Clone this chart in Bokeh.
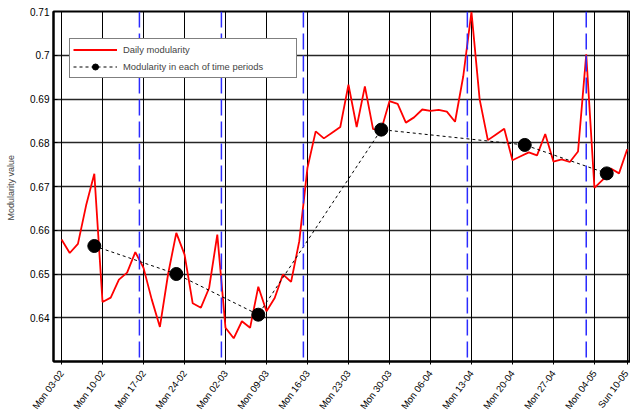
from bokeh.plotting import figure
from bokeh.models import FixedTicker, Span, Legend, LegendItem, Range1d
from bokeh.embed import file_html
from bokeh.resources import INLINE

# Daily modularity (one value per working day, index 0 = Mon 03-02)
daily_modularity = [
    0.6579, 0.6548, 0.6569, 0.6657, 0.6729, 0.6436, 0.6446, 0.6487, 0.6503, 0.6550,
    0.6514, 0.6442, 0.6379, 0.6500, 0.6594, 0.6545, 0.6433, 0.6423, 0.6468, 0.6590,
    0.6377, 0.6353, 0.6392, 0.6377, 0.6471, 0.6415, 0.6445, 0.6499, 0.6482, 0.6575,
    0.6743, 0.6826, 0.6810, 0.6823, 0.6836, 0.6933, 0.6836, 0.6929, 0.6831, 0.6830,
    0.6895, 0.6889, 0.6846, 0.6858, 0.6876, 0.6873, 0.6875, 0.6871, 0.6848, 0.6952,
    0.7099, 0.6899, 0.6806, 0.6819, 0.6832, 0.6760, 0.6769, 0.6778, 0.6771, 0.6820,
    0.6757, 0.6762, 0.6756, 0.6780, 0.7002, 0.6697, 0.6715, 0.6741, 0.6730, 0.6785,
]
day_index = list(range(len(daily_modularity)))

# Modularity of each time period
period_index = [4, 14, 24, 39, 56.5, 66.5]
period_modularity = [0.6564, 0.6500, 0.6407, 0.6830, 0.6795, 0.6730]

# Period boundaries
boundaries = [9.5, 19.5, 29.5, 49.5, 64]

# X tick labels
tick_positions = [0, 5, 10, 15, 20, 25, 30, 35, 40, 45, 50, 55, 60, 65, 69]
tick_labels = ["Mon 03-02", "Mon 10-02", "Mon 17-02", "Mon 24-02", "Mon 02-03",
               "Mon 09-03", "Mon 16-03", "Mon 23-03", "Mon 30-03", "Mon 06-04",
               "Mon 13-04", "Mon 20-04", "Mon 27-04", "Mon 04-05", "Sun 10-05"]

y_ticks = [0.64, 0.65, 0.66, 0.67, 0.68, 0.69, 0.70, 0.71]
y_labels = ["0.64", "0.65", "0.66", "0.67", "0.68", "0.69", "0.7", "0.71"]

FONT = "Liberation Sans"

p = figure(width=630, height=418, output_backend="svg", toolbar_location=None,
           x_range=Range1d(-0.98, 69.4), y_range=Range1d(0.63, 0.71),
           min_border_left=53, min_border_right=0, min_border_top=11,
           min_border_bottom=57)
p.background_fill_color = "white"
p.border_fill_color = "white"
p.outline_line_color = "black"
p.outline_line_width = 2

# axes
p.xaxis.ticker = FixedTicker(ticks=tick_positions)
p.xaxis.major_label_overrides = {t: l for t, l in zip(tick_positions, tick_labels)}
p.xaxis.major_label_orientation = 0.93
p.xaxis.major_label_text_font = FONT
p.xaxis.major_label_text_font_size = "9.5px"
p.xaxis.major_label_text_color = "black"
p.xaxis.major_label_standoff = 7
p.xaxis.major_tick_in = 0
p.xaxis.major_tick_out = 3
p.xaxis.minor_tick_line_color = None
p.xaxis.axis_line_width = 2

p.yaxis.ticker = FixedTicker(ticks=y_ticks)
p.yaxis.major_label_overrides = {t: l for t, l in zip(y_ticks, y_labels)}
p.yaxis.major_label_text_font = FONT
p.yaxis.major_label_text_font_size = "10px"
p.yaxis.major_label_text_color = "black"
p.yaxis.major_label_standoff = 4
p.yaxis.major_tick_in = 4
p.yaxis.major_tick_out = 0
p.yaxis.minor_tick_line_color = None
p.yaxis.axis_line_width = 2
p.yaxis.axis_label = "Modularity  value"
p.yaxis.axis_label_text_font = FONT
p.yaxis.axis_label_text_font_size = "9px"
p.yaxis.axis_label_text_font_style = "normal"
p.yaxis.axis_label_standoff = 11

# grids
p.xgrid.ticker = FixedTicker(ticks=tick_positions)
p.xgrid.grid_line_color = "black"
p.xgrid.grid_line_alpha = 1
p.xgrid.grid_line_width = 1
p.ygrid.ticker = FixedTicker(ticks=y_ticks)
p.ygrid.grid_line_color = "black"
p.ygrid.grid_line_alpha = 0.85
p.ygrid.grid_line_width = 1.3

# boundaries
for b in boundaries:
    p.add_layout(Span(location=b, dimension="height", line_color="#2b2bff",
                      line_dash="16 6", line_width=1.5))

daily_r = p.line(day_index, daily_modularity, line_color="#ff0000", line_width=1.8)
period_line = p.line(period_index, period_modularity, line_color="black",
                     line_width=1, line_dash="3 3")
period_pts = p.scatter(period_index, period_modularity, size=13, marker="circle",
                       fill_color="black", line_color="black")

legend = Legend(items=[
    LegendItem(label="Daily modularity", renderers=[daily_r]),
    LegendItem(label="Modularity in each of time periods", renderers=[period_line, period_pts]),
], location=(16, 283))
legend.label_text_font = FONT
legend.label_text_font_size = "9.4px"
legend.glyph_width = 44
legend.glyph_height = 15
legend.label_height = 15
legend.label_width = 170
legend.label_standoff = 6
legend.spacing = 2
legend.padding = 3
legend.margin = 0
legend.border_line_color = "black"
legend.border_line_width = 1.5
legend.background_fill_alpha = 1
p.add_layout(legend, "center")

open("out.html", "w").write(file_html(p, INLINE))
